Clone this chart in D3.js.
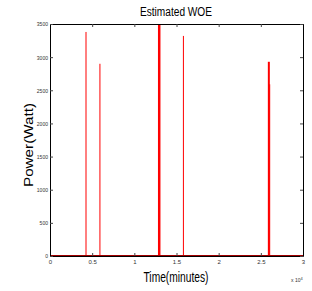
<!DOCTYPE html>
<html>
<head>
<meta charset="utf-8">
<script src="https://cdn.jsdelivr.net/npm/d3@7"></script>
<style>
  body { margin: 0; background: #fff; }
  svg { display: block; font-family: "Liberation Sans", Arial, sans-serif; }
</style>
</head>
<body>
<div id="chart"></div>
<script>
// spike positions (minutes) and power (watt)
var spikeTimes  = [4270, 5920, 12950, 15820, 25950, 26050];
var spikePower  = [3380, 2900, 3500, 3320, 2930, 2590];
var spikeWidth  = [1, 1, 2.5, 1, 2, 1];
var baseTimes   = [0, 30000];
var basePower   = [0, 0];
var xTicks      = [0, 5000, 10000, 15000, 20000, 25000, 30000];
var xTickLabels = ["0", "0.5", "1", "1.5", "2", "2.5", "3"];
var yTicks      = [0, 500, 1000, 1500, 2000, 2500, 3000, 3500];

var W = 312, H = 291;
var margin = {top: 24, right: 9, bottom: 35, left: 50},
    width = W - margin.left - margin.right,
    height = H - margin.top - margin.bottom;

var svg = d3.select("#chart").append("svg")
    .attr("width", W)
    .attr("height", H);

var g = svg.append("g")
    .attr("transform", "translate(" + margin.left + "," + margin.top + ")");

var x = d3.scaleLinear().domain([0, 30000]).range([0, width]);
var y = d3.scaleLinear().domain([0, 3500]).range([height, 0]);

// spikes
g.selectAll(".spike")
    .data(spikeTimes)
  .enter().append("line")
    .attr("class", "spike")
    .attr("x1", function(d) { return x(d); })
    .attr("x2", function(d) { return x(d); })
    .attr("y1", y(0))
    .attr("y2", function(d, i) { return y(spikePower[i]); })
    .attr("stroke", "#ff0000")
    .attr("stroke-width", function(d, i) { return spikeWidth[i]; });

// baseline trace
var line = d3.line()
    .x(function(d, i) { return x(baseTimes[i]); })
    .y(function(d) { return y(d); });

g.append("path")
    .datum(basePower)
    .attr("d", line)
    .attr("fill", "none")
    .attr("stroke", "#a00000")
    .attr("stroke-width", 2);

// box axes with inward ticks
function styleAxis(sel) {
  sel.select(".domain").attr("stroke", "#000").attr("stroke-width", 1);
  sel.selectAll(".tick line").attr("stroke", "#444");
  sel.selectAll(".tick text").attr("fill", "#333").style("font-size", "6px");
}

var xb = g.append("g")
    .attr("transform", "translate(0," + height + ")")
    .call(d3.axisBottom(x).tickValues(xTicks).tickSizeInner(-3).tickSizeOuter(0)
      .tickFormat(function(d, i) { return xTickLabels[i]; }));
styleAxis(xb);
xb.selectAll(".tick text").attr("y", 4);

var xt = g.append("g")
    .call(d3.axisTop(x).tickValues(xTicks).tickSizeInner(-3).tickSizeOuter(0).tickFormat(""));
styleAxis(xt);

var yl = g.append("g")
    .call(d3.axisLeft(y).tickValues(yTicks).tickSizeInner(-3).tickSizeOuter(0)
      .tickFormat(d3.format("d")));
styleAxis(yl);
yl.selectAll(".tick text").attr("x", -2).attr("textLength", function(d) { return String(d).length * 2.8; })
    .attr("lengthAdjust", "spacingAndGlyphs");

var yr = g.append("g")
    .attr("transform", "translate(" + width + ",0)")
    .call(d3.axisRight(y).tickValues(yTicks).tickSizeInner(-3).tickSizeOuter(0).tickFormat(""));
styleAxis(yr);

// title and labels
svg.append("text")
    .attr("x", 176).attr("y", 16)
    .attr("text-anchor", "middle")
    .attr("textLength", 72).attr("lengthAdjust", "spacingAndGlyphs")
    .style("font-size", "12px")
    .text("Estimated WOE");

svg.append("text")
    .attr("x", 176).attr("y", 282)
    .attr("text-anchor", "middle")
    .attr("textLength", 65).attr("lengthAdjust", "spacingAndGlyphs")
    .style("font-size", "14px")
    .text("Time(minutes)");

svg.append("text")
    .attr("transform", "translate(33,145) rotate(-90)")
    .attr("text-anchor", "middle")
    .attr("textLength", 84).attr("lengthAdjust", "spacingAndGlyphs")
    .style("font-size", "12px")
    .text("Power(Watt)");

var mult = svg.append("text")
    .attr("x", 291).attr("y", 282)
    .style("font-size", "5px")
    .attr("fill", "#333");
mult.append("tspan").text("x 10");
mult.append("tspan").attr("dy", -2).style("font-size", "4px").text("4");
</script>
</body>
</html>
